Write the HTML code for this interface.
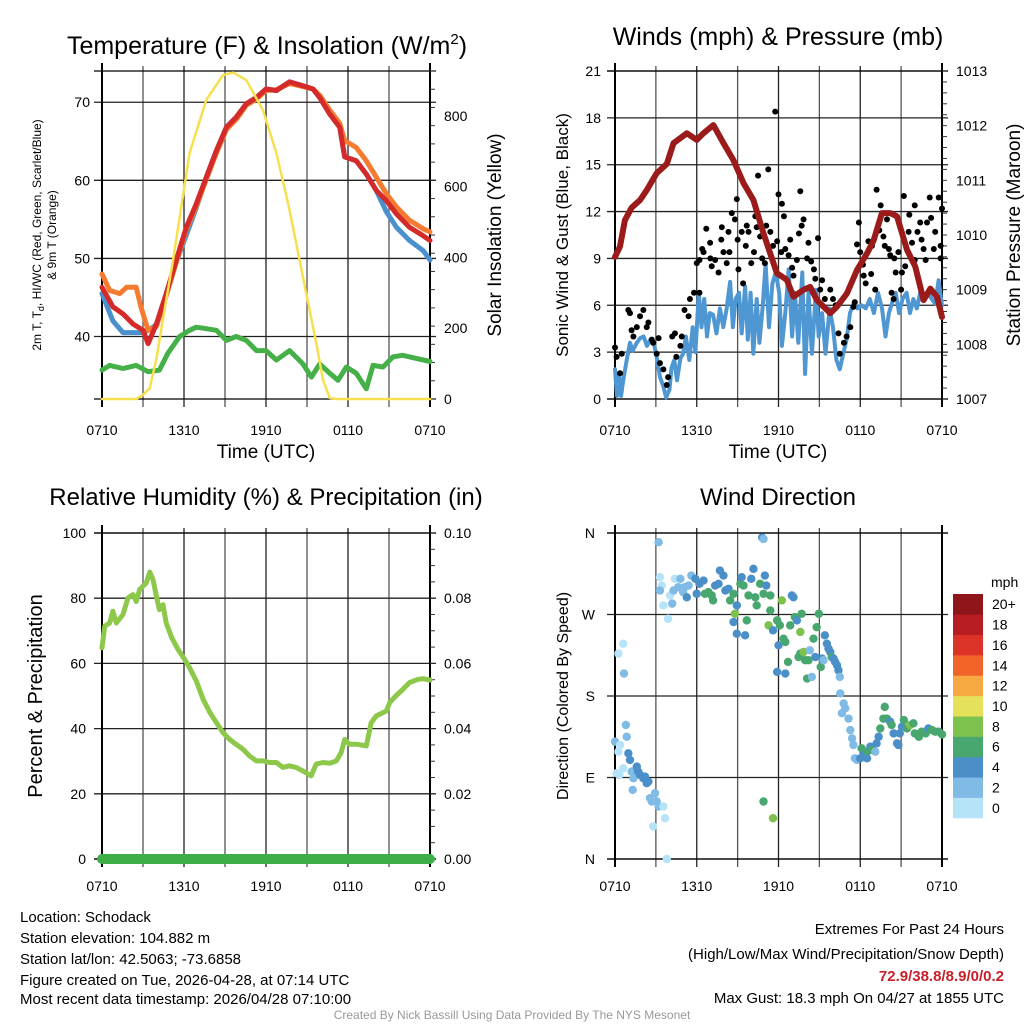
<!DOCTYPE html>
<html><head><meta charset="utf-8">
<style>
body{margin:0;background:#fff;}
svg{display:block;font-family:"Liberation Sans",Arial,sans-serif;}
</style></head>
<body>
<svg id="svg" width="1024" height="1024" viewBox="0 0 1024 1024" xmlns="http://www.w3.org/2000/svg">
<rect width="1024" height="1024" fill="#fff"/>
<text x="267" y="54" font-size="25" text-anchor="middle">Temperature (F) &amp; Insolation (W/m<tspan font-size="15" dy="-10">2</tspan><tspan dy="10">)</tspan></text>
<text x="778" y="45" font-size="25" text-anchor="middle">Winds (mph) &amp; Pressure (mb)</text>
<text x="266" y="505" font-size="24" text-anchor="middle">Relative Humidity (%) &amp; Precipitation (in)</text>
<text x="778" y="505" font-size="24" text-anchor="middle">Wind Direction</text>

<text x="266" y="458" font-size="19" text-anchor="middle">Time (UTC)</text>
<text x="778" y="458" font-size="19" text-anchor="middle">Time (UTC)</text>

<text transform="translate(41,235) rotate(-90)" font-size="12" text-anchor="middle">2m T, T<tspan font-size="9" dy="3">d</tspan><tspan dy="-3">, HI/WC (Red, Green, Scarlet/Blue)</tspan></text>
<text transform="translate(56,235) rotate(-90)" font-size="12" text-anchor="middle">&amp; 9m T (Orange)</text>
<text transform="translate(501,235) rotate(-90)" font-size="19" text-anchor="middle">Solar Insolation (Yellow)</text>
<text transform="translate(568,235) rotate(-90)" font-size="17" text-anchor="middle">Sonic Wind &amp; Gust (Blue, Black)</text>
<text transform="translate(1020,235) rotate(-90)" font-size="19" text-anchor="middle">Station Pressure (Maroon)</text>
<text transform="translate(42,696) rotate(-90)" font-size="20" text-anchor="middle">Percent &amp; Precipitation</text>
<text transform="translate(568,696) rotate(-90)" font-size="16" text-anchor="middle">Direction (Colored By Speed)</text>

<g font-size="15">
<text x="20" y="922">Location: Schodack</text>
<text x="20" y="943">Station elevation: 104.882 m</text>
<text x="20" y="964">Station lat/lon: 42.5063; -73.6858</text>
<text x="20" y="985">Figure created on Tue, 2026-04-28, at 07:14 UTC</text>
<text x="20" y="1004">Most recent data timestamp: 2026/04/28 07:10:00</text>
</g>
<g font-size="15" text-anchor="end">
<text x="1004" y="934">Extremes For Past 24 Hours</text>
<text x="1004" y="959">(High/Low/Max Wind/Precipitation/Snow Depth)</text>
<text x="1004" y="981" fill="#c8202a" font-weight="bold">72.9/38.8/8.9/0/0.2</text>
<text x="1004" y="1003">Max Gust: 18.3 mph On 04/27 at 1855 UTC</text>
</g>
<text x="512" y="1019" font-size="12" fill="#999" text-anchor="middle">Created By Nick Bassill Using Data Provided By The NYS Mesonet</text>
</svg>
<script>
// ---------- data ----------
const xTickHours=[0,6,12,18,24];
const xTickLabels=["0710","1310","1910","0110","0710"];
const tempTicks=[40,50,60,70];
const solarTicks=[0,200,400,600,800];
const windTicks=[0,3,6,9,12,15,18,21];
const presTicks=[1007,1008,1009,1010,1011,1012,1013];
const rhTicks=[0,20,40,60,80,100];
const precipTickLabels=["0.00","0.02","0.04","0.06","0.08","0.10"];
const dirTickLabels=["N","E","S","W","N"];
const speedBandLabels=["0","2","4","6","8","10","12","14","16","18","20+"];
const speedBandColors=["#b5e3f8","#7fbbe4","#4a8fc8","#48a76f","#7cc24c","#e6e15a","#f6a943","#f0642a","#dc3227","#b81d23","#8e1519"];

const redHours=[0,0.8,1.54,2.27,3.0,3.37,3.98,4.7,5.44,6.17,6.9,7.63,8.37,9.1,9.83,10.56,11.3,12.0,12.76,13.73,14.7,15.44,15.93,16.66,17.39,17.76,18.6,19.34,20.07,20.8,21.54,22.5,23.5,24];
const redTemp=[46.3,43.8,42.9,41.6,40.8,39.1,41.6,45.5,49.8,54.0,57.0,60.4,63.8,66.8,68.1,69.8,70.6,71.7,71.5,72.6,72.1,71.7,70.6,68.5,66.8,63.0,62.5,60.8,58.7,57.4,55.7,54.0,52.9,52.3];
const orangeHours=[0,0.56,1.3,1.8,2.5,2.85,3.37,3.98,4.7,5.44,6.17,6.9,7.63,8.37,9.1,9.83,10.56,11.3,12.0,12.76,13.73,14.7,15.44,15.93,16.66,17.39,17.76,18.6,19.34,20.07,20.8,21.54,22.5,23.5,24];
const orangeTemp=[48.0,45.9,45.5,46.3,46.3,43.8,40.8,41.3,45.2,49.5,53.7,56.7,60.1,63.5,66.5,67.8,69.6,70.4,71.5,71.6,72.4,72.0,71.7,70.9,69.0,67.3,65.1,64.2,62.5,60.4,58.3,56.6,54.9,53.8,53.4];
const blueHours=[0,0.8,1.54,2.27,3.0,3.37,3.98,4.7,5.44,6.17,6.9,7.63,8.37,9.1,9.83,10.56,11.3,12.0,12.76,13.73,14.7,15.44,15.93,16.66,17.39,17.76,18.6,19.34,20.07,20.8,21.54,22.5,23.5,24];
const blueTemp=[45.5,42.0,40.5,40.5,40.5,40.8,41.5,45.3,49.6,53.0,56.5,60.4,63.8,66.8,68.1,69.8,70.6,71.7,71.5,72.6,72.1,71.7,70.6,68.5,66.8,63.0,62.5,60.8,58.7,56.0,54.0,52.3,51.0,49.8];
const dewHours=[0,0.56,1.54,2.5,3.37,4.2,4.8,5.68,6.41,6.9,7.63,8.37,9.1,9.83,10.56,11.3,12.0,12.76,13.73,14.7,15.32,15.93,16.66,17.27,17.88,18.6,19.34,19.83,20.56,21.3,22.0,23.0,24];
const dewTemp=[35.7,36.3,35.9,36.3,35.5,35.7,37.8,40.0,40.8,41.2,41.0,40.8,39.5,40.0,39.5,38.2,38.2,37.0,38.2,36.5,34.8,36.5,35.3,34.4,36.1,35.3,33.3,36.3,36.1,37.4,37.6,37.2,36.8];
const solarHours=[0,2.5,3.0,3.49,3.98,4.46,5.2,6.41,7.63,8.85,9.59,10.56,11.78,12.76,13.73,14.7,15.68,16.17,16.66,17.1,24];
const solarValues=[0,0,12,30,113,226,393,695,845,915,923,901,816,695,534,345,158,54,3,0,0];

const presHours=[0,0.37,0.73,1.22,1.84,2.33,3.06,3.8,4.29,5.27,6.0,6.49,7.22,7.96,8.69,9.43,10.16,10.9,11.88,12.61,13.1,13.84,14.33,14.82,15.8,16.29,17.02,17.76,18.49,18.98,19.59,20.21,20.7,21.43,22.04,22.65,23.14,23.63,24];
const presValues=[1009.6,1009.79,1010.27,1010.5,1010.64,1010.82,1011.13,1011.3,1011.68,1011.86,1011.74,1011.86,1012.01,1011.68,1011.37,1010.95,1010.64,1010.03,1009.3,1009.18,1008.87,1009.0,1009.05,1008.81,1008.57,1008.69,1008.93,1009.36,1009.66,1009.9,1010.4,1010.4,1010.34,1009.73,1009.42,1008.81,1009.02,1008.87,1008.5];
const windHours=[0,0.15,0.3,0.45,0.6,0.9,1.1,1.3,1.6,1.85,2.1,2.35,2.6,2.85,3.1,3.3,3.55,3.75,4.0,4.15,4.35,4.55,4.8,5.0,5.2,5.45,5.7,5.9,6.15,6.35,6.55,6.75,6.95,7.2,7.45,7.7,7.95,8.2,8.45,8.65,8.85,9.1,9.3,9.55,9.75,9.95,10.15,10.4,10.6,10.85,11.05,11.3,11.55,11.8,12.05,12.25,12.5,12.75,13.0,13.2,13.45,13.75,13.95,14.2,14.45,14.75,14.95,15.2,15.45,15.75,16.0,16.25,16.5,16.75,17.0,17.25,17.5,17.8,18.1,18.4,18.7,19.0,19.3,19.6,19.85,20.1,20.35,20.6,20.85,21.1,21.4,21.65,21.9,22.15,22.4,22.7,22.95,23.25,23.5,23.75,24];
const windSpeed=[1.9,0.2,1.6,0.2,1.2,2.7,3.6,3.1,3.6,3.9,4.0,3.4,3.8,3.6,2.5,1.4,0.8,0.1,0.6,2.0,2.5,1.2,2.6,2.9,4.0,2.5,4.6,3.0,6.8,4.6,6.4,4.0,5.5,5.4,4.2,5.8,4.6,5.8,7.5,4.6,6.4,6.8,4.2,7.2,3.8,6.8,2.9,6.4,3.6,6.0,8.7,4.6,7.4,8.1,6.8,3.4,5.5,8.3,4.0,6.8,3.6,8.1,1.6,6.8,2.9,7.0,4.0,5.5,2.9,5.8,4.6,2.5,1.9,2.9,3.8,5.5,6.1,5.8,6.0,5.8,6.4,5.5,6.8,5.8,4.0,5.5,6.2,6.8,5.5,6.4,6.8,5.5,6.4,5.8,6.8,6.4,6.8,6.4,6.1,7.6,6.0];
const gustHours=[0,0.12,0.5,0.37,0.98,1.1,1.22,1.35,1.6,1.84,2.08,2.33,2.45,2.7,2.8,3.2,3.06,3.3,3.55,3.8,3.9,4.2,4.4,4.5,4.8,4.9,5.1,5.4,5.5,5.8,6.0,6.2,6.2,6.5,6.7,6.98,7.1,7.35,7.6,7.84,7.96,8.2,8.33,8.57,8.8,8.94,9.06,9.3,9.4,9.67,9.8,10.0,10.2,10.3,10.5,10.65,11.0,11.1,11.25,11.4,11.76,11.9,12.0,12.25,12.4,12.5,12.74,12.86,13.1,13.35,13.6,13.7,13.84,14.1,14.2,14.6,14.7,14.9,15.06,15.4,15.8,16.0,16.4,16.5,16.8,17.0,17.27,17.5,17.6,17.76,17.9,18.0,18.25,18.4,18.6,18.86,19.1,19.2,19.5,19.7,19.8,19.96,20.1,20.2,20.3,20.45,20.6,20.8,21.06,21.2,21.3,21.55,21.8,22.0,22.2,22.4,22.65,22.9,23.1,23.4,23.5,23.76,23.9,24,23.9,22.8,22.0,21.0,6.4,7.0,7.8,8.4,9.0,9.6,10.4,10.8,11.6,12.2,13.0,13.5,14.4,15.2,16.2,18.2,18.8,19.4,20.5,21.6,22.5,23.2];
const gustSpeed=[3.3,2.7,2.9,1.65,5.7,5.5,4.4,4.0,4.6,5.3,5.7,4.6,4.9,3.8,3.6,3.9,2.9,2.3,1.9,0.9,1.4,4.0,4.2,2.7,3.4,4.0,5.7,5.3,6.4,6.8,8.7,8.9,6.8,9.4,10.9,10.0,8.5,8.9,8.1,11.0,9.4,8.7,10.7,11.9,11.5,12.8,8.3,10.7,7.4,11.1,10.7,8.7,9.4,11.7,14.3,10.4,8.7,11.1,14.7,10.7,18.4,10.1,13.1,12.5,11.7,9.6,9.2,10.2,7.9,8.9,13.3,11.1,11.5,9.0,10.0,8.3,7.7,10.3,7.0,6.4,7.0,6.4,4.2,2.9,3.6,4.0,4.6,5.9,6.2,9.9,11.3,9.4,7.9,7.4,10.1,9.8,7.0,13.4,12.4,10.4,9.8,11.5,9.6,9.2,6.8,6.4,8.1,9.4,8.1,13.0,8.5,10.7,10.0,12.4,10.7,11.3,9.6,11.3,12.9,9.6,10.7,12.9,9.8,12.2,9.0,8.9,8.9,7.0,9.6,9.0,10.2,9.4,10.2,9.8,11.0,9.0,9.8,9.4,8.4,10.6,8.8,7.6,6.0,8.6,8.0,10.8,9.0,11.8,10.2,11.6];

const rhHours=[0,0.2,0.56,0.8,1.05,1.54,1.9,2.27,2.5,2.76,3.24,3.5,3.73,3.98,4.2,4.46,4.7,5.1,5.56,6.05,6.4,6.9,7.4,7.9,8.37,8.85,9.34,9.8,10.3,10.8,11.3,11.8,12.27,12.76,13.24,13.7,14.2,14.7,15.3,15.67,16.17,16.66,17.15,17.5,17.76,18.1,18.6,19.34,19.7,20.07,20.56,20.8,21.05,21.5,22.0,22.5,23.1,23.5,24];
const rhValues=[64.8,71.4,72.4,76,72.4,75,80.1,81.1,79,82.7,84.7,88,85.7,80.6,76.5,78,72.4,67.9,64.3,61.2,58.7,54.6,49,44.9,41.8,38.8,36.7,35.2,33.7,31.6,30.1,30.1,29.6,29.6,28.1,28.6,28.1,27,25.5,29.1,29.6,29.4,30.1,32.7,36.7,35.2,35.2,34.7,41.8,43.9,44.9,45.4,48,50,52,54.1,55.1,55.3,54.9];
const precipValues=[0,0];
const precipHours=[0,24];

const dirHours=[0,0.37,0.25,0.12,0.32,0.6,0.8,0.86,0.98,1.1,1.22,1.35,1.3,1.6,1.7,1.84,2.08,2.2,2.33,2.45,2.57,2.7,2.94,3.06,3.2,3.55,3.67,2.8,3.8,0.6,0.25,0.66,3.2,3.3,3.43,3.3,3.55,3.9,4.04,4.2,4.3,4.4,4.65,4.8,5.0,5.1,5.27,5.4,5.6,5.9,6.0,6.2,6.5,6.6,6.86,7.1,7.2,7.35,7.6,7.7,7.96,8.1,8.33,8.45,8.7,8.8,8.7,8.94,8.94,9.2,9.3,9.43,9.55,9.67,9.8,10.0,10.16,10.3,10.4,10.65,10.8,10.9,10.9,11.0,11.1,11.4,11.4,11.27,11.6,11.9,12.0,12.1,12.25,12.37,12.5,11.9,12.5,12.7,12.86,12.98,13.1,13.2,13.35,13.47,13.6,13.6,13.7,13.84,13.96,14.1,14.2,14.3,14.45,14.57,14.7,14.8,14.96,15.1,15.2,15.3,15.4,15.55,15.67,15.8,15.9,16.04,16.16,16.3,16.4,16.5,16.53,16.78,16.9,16.65,17.14,17.27,17.4,17.5,17.6,17.76,18.0,18.1,18.25,18.5,18.5,18.74,18.86,19.1,19.2,19.35,19.47,19.7,19.8,19.96,20.2,20.3,20.45,20.7,20.8,20.9,21.06,21.2,21.43,21.67,21.9,22.0,22.3,22.5,22.8,23.0,23.26,23.5,23.76,24,10.9,11.6];
const dirDegrees=[129.6,126,118.5,94.7,92.9,100,148,135,116.7,109.4,96.5,89.2,76.3,102,96.5,92.9,89.2,91,83.7,85.5,67.2,63.5,72.7,63.5,58,58,45,36,0,237.8,226.8,204.8,349.8,311.2,302,296.5,280,265.3,291,282,296.5,309.4,300.2,309.4,294.7,300.2,289,302,313,309.4,292.9,303.9,307.5,292.9,294.7,291,285.5,302,303.9,318.5,313,296.5,298.4,285.5,292.9,270.8,261.7,280,248.8,303.9,311.2,302,247,263.5,291,309.4,320.4,289,280,303.9,355,353.4,292.9,313,302,291,274.5,258,252.5,263.5,236,258,285.5,243.3,239.6,206.6,204.8,217.6,258,291,289,267.2,263.5,223,226.8,250.7,270.8,228.6,219.5,199.3,219.5,230.5,201.1,243.3,223,256,270.8,212,221.3,219.5,247,237.8,232.3,228.6,223,221.3,217.6,213.9,208.4,201.1,182.8,171.8,166.3,161,155,142.4,133.2,125.9,111.2,109.4,111.2,122.2,114.9,118.5,111.2,124,120.4,118.5,127.7,135,144.2,155,168,155,151.6,148,138.7,127.7,125.9,138.7,146,153.4,144.2,148,149.8,138.7,135,140.6,138.7,144.2,142.4,140.6,140.6,137.6,63.5,45];
const dirSpeed=[3,1,1,1,1,1,3,3,5,5,3,3,3,5,5,5,5,5,5,5,3,3,3,3,3,1,1,1,1,1,1,3,3,1,1,3,1,1,1,3,3,1,3,3,3,3,5,3,3,5,5,5,5,7,7,7,7,5,5,5,5,5,5,7,7,9,5,5,5,7,5,7,5,7,7,5,5,7,7,7,5,3,7,5,5,7,7,9,5,7,5,7,9,7,7,5,5,7,7,5,5,7,5,7,7,9,7,9,7,7,7,3,3,7,5,7,7,7,5,3,5,5,5,5,7,5,5,5,5,3,3,3,3,3,3,3,3,3,3,3,5,7,5,7,5,5,7,3,5,5,7,7,7,7,5,7,5,5,5,5,5,7,7,9,7,7,7,7,7,5,7,7,7,7,7,9,3,5];

// ---------- helpers ----------
const NS="http://www.w3.org/2000/svg";
const svg=document.getElementById("svg");
function mk(tag,attrs,parent){const e=document.createElementNS(NS,tag);for(const k in attrs)e.setAttribute(k,attrs[k]);(parent||svg).appendChild(e);return e;}
function lin(d0,d1,r0,r1){return v=>r0+(v-d0)*(r1-r0)/(d1-d0);}

const P1={x0:102,x1:430,y0:71,y1:399,lab:36};
const P2={x0:615,x1:942,y0:71,y1:399,lab:36};
const P3={x0:102,x1:430,y0:533,y1:859,lab:32};
const P4={x0:615,x1:942,y0:533,y1:859,lab:32};

function grid(P,name,hLines){
  const g=mk("g",{});
  
  
  const xs=lin(0,24,P.x0,P.x1);
  for(let h=0;h<=24;h+=3){
    const x=xs(h);
    mk("line",{x1:x,x2:x,y1:P.y0-5,y2:P.y1+8,stroke:(h%6==0?"#222":"#555"),"stroke-width":1.3},g);
  }
  hLines.forEach(y=>mk("line",{x1:P.x0-8,x2:P.x1+6,y1:y,y2:y,stroke:"#222","stroke-width":1.3},g));
  mk("line",{x1:P.x0-8,x2:P.x1+6,y1:P.y0,y2:P.y0,stroke:"#000","stroke-width":1.3},g);
  mk("line",{x1:P.x0-8,x2:P.x1+6,y1:P.y1,y2:P.y1,stroke:"#000","stroke-width":1.3},g);
  mk("line",{x1:P.x0,x2:P.x0,y1:P.y0-8,y2:P.y1+8,stroke:"#000","stroke-width":2},g);
  mk("line",{x1:P.x1,x2:P.x1,y1:P.y0-8,y2:P.y1+8,stroke:"#000","stroke-width":2},g);
  xTickHours.forEach((h,i)=>{
    const t=mk("text",{x:xs(h),y:P.y1+P.lab,"font-size":14,"text-anchor":"middle"},g);
    t.textContent=xTickLabels[i];
  });
  return xs;
}
function rightMinor(P,n,name){
  const g=mk("g",{});
  
  
  for(let i=0;i<=n;i++){const y=P.y1-(P.y1-P.y0)*i/n;mk("line",{x1:P.x1,x2:P.x1+5,y1:y,y2:y,stroke:"#333","stroke-width":1},g);}
}
function poly(xs,ys,hours,vals,attrs,name){
  const pts=hours.map((h,i)=>xs(h).toFixed(1)+","+ys(vals[i]).toFixed(1)).join(" ");
  const p=mk("polyline",Object.assign({points:pts,fill:"none","stroke-linejoin":"round","stroke-linecap":"round"},attrs));
  
  
  return p;
}
function label(x,y,txt,anchor,size,name){
  const t=mk("text",{x:x,y:y,"font-size":size||14,"text-anchor":anchor||"end"});
  t.textContent=txt;
  
  
}

// ---------- panel 1 ----------
const yT=lin(32,74,P1.y1,P1.y0);
const yS=lin(0,927,P1.y1,P1.y0);
const xs1=grid(P1,"temp",tempTicks.map(yT));
rightMinor(P1,18,"solar-minor-ticks");
tempTicks.forEach(v=>label(P1.x0-12,yT(v)+5,String(v),"end",14,"temp-tick-label"));
solarTicks.forEach(v=>label(P1.x1+14,yS(v)+5,String(v),"start",14,"solar-tick-label"));
poly(xs1,yT,blueHours,blueTemp,{stroke:"#4a90cd","stroke-width":5},"heat-index-line");
poly(xs1,yT,dewHours,dewTemp,{stroke:"#45b048","stroke-width":5},"dewpoint-line");
poly(xs1,yT,orangeHours,orangeTemp,{stroke:"#f47b30","stroke-width":5},"temp-9m-line");
poly(xs1,yT,redHours,redTemp,{stroke:"#d42a2a","stroke-width":5},"temp-2m-line");
poly(xs1,yS,solarHours,solarValues,{stroke:"#f7e04e","stroke-width":2.5},"solar-line");

// ---------- panel 2 ----------
const yW=lin(0,21,P2.y1,P2.y0);
const yP=lin(1007,1013,P2.y1,P2.y0);
const xs2=grid(P2,"wind",windTicks.map(yW));
rightMinor(P2,30,"pressure-minor-ticks");
windTicks.forEach(v=>label(P2.x0-14,yW(v)+5,String(v),"end",14,"wind-tick-label"));
presTicks.forEach(v=>label(P2.x1+14,yP(v)+5,String(v),"start",14,"pressure-tick-label"));
poly(xs2,yW,windHours,windSpeed,{stroke:"#4f97d3","stroke-width":4},"sonic-wind-line");
gustHours.forEach((h,i)=>{
  const c=mk("circle",{cx:xs2(h),cy:yW(gustSpeed[i]),r:3,fill:"#000"});
  
  
});
poly(xs2,yP,presHours,presValues,{stroke:"#9b1b1b","stroke-width":6},"pressure-line");

// ---------- panel 3 ----------
const yR=lin(0,100,P3.y1,P3.y0);
const xs3=grid(P3,"rh",rhTicks.map(yR));
rightMinor(P3,20,"precip-minor-ticks");
rhTicks.forEach(v=>label(P3.x0-16,yR(v)+5,String(v),"end",14,"rh-tick-label"));
precipTickLabels.forEach((s,i)=>label(P3.x1+14,yR(rhTicks[i])+5,s,"start",14,"precip-tick-label"));
poly(xs3,yR,rhHours,rhValues,{stroke:"#8dc84a","stroke-width":5},"rh-line");
const yPr=lin(0,0.1,P3.y1,P3.y0);
poly(xs3,yPr,precipHours,precipValues,{stroke:"#3eae49","stroke-width":10},"precip-line");

// ---------- panel 4 ----------
const yD=lin(0,360,P4.y1,P4.y0);
const xs4=grid(P4,"direction",[0,90,180,270,360].map(yD));
[0,90,180,270,360].forEach((v,i)=>label(P4.x0-20,yD(v)+5,dirTickLabels[i],"end",14,"direction-tick-label"));
function speedColor(s){let b=Math.floor(s/2);if(b>10)b=10;return speedBandColors[b];}
dirHours.forEach((h,i)=>{
  const c=mk("circle",{cx:xs4(h),cy:yD(dirDegrees[i]),r:4.2,fill:speedColor(dirSpeed[i])});
  
  
});
// colorbar
const cb=mk("g",{});


const cbTop=594,cbBot=818,bh=(cbBot-cbTop)/speedBandColors.length;
speedBandColors.forEach((col,i)=>{
  const y=cbBot-(i+1)*bh;
  mk("rect",{x:953,y:y,width:30,height:bh+0.3,fill:col},cb);
  const t=mk("text",{x:992,y:y+bh/2+5,"font-size":14},cb);
  t.textContent=speedBandLabels[i];
});
const mphLbl=mk("text",{x:991,y:587,"font-size":14},cb);
mphLbl.textContent="mph";
</script>
</body></html>
